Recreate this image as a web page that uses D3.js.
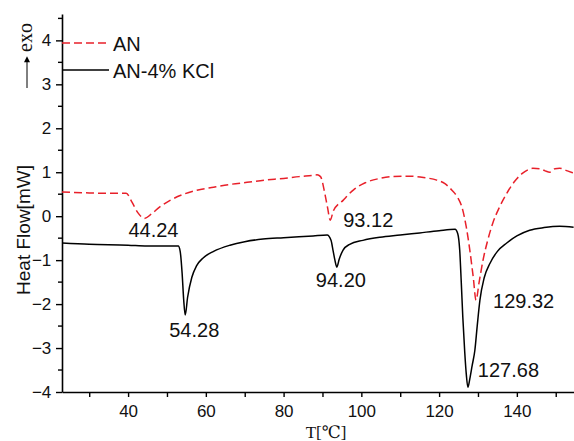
<!DOCTYPE html>
<html>
<head>
<meta charset="utf-8">
<script src="https://d3js.org/d3.v7.min.js"></script>
<style>
  body { margin: 0; background: #fff; }
  svg text { font-family: "Liberation Sans", Arial, sans-serif; fill: #111; }
</style>
</head>
<body>
<div id="chart"></div>
<script>
// AN curve: [temperature, heat flow]
var anTemp = [23, 30, 35, 39.5, 41, 42.5, 44.2, 46, 48, 50.8, 54, 57.7, 62, 66, 70.6, 75, 80, 84, 87.6, 88.6, 89.5, 90.6, 91.3, 92, 92.8, 95.3, 98, 101, 104.8, 108, 112.5, 116, 119.4, 121.5, 123.3, 124.8, 125.9, 127, 127.9, 128.8, 129.5, 130.3, 131.3, 132.5, 133.8, 135.5, 137.4, 139.5, 141.5, 143, 144.1, 146, 147.3, 148.5, 149.8, 151, 153, 154.6];
var anFlow = [0.55, 0.53, 0.52, 0.52, 0.32, 0.08, -0.05, 0.05, 0.2, 0.36, 0.49, 0.59, 0.66, 0.72, 0.77, 0.82, 0.86, 0.9, 0.93, 0.94, 0.9, 0.52, 0.2, -0.09, 0.12, 0.36, 0.6, 0.76, 0.86, 0.9, 0.91, 0.88, 0.82, 0.74, 0.59, 0.42, 0.2, -0.25, -0.77, -1.4, -1.91, -1.5, -1.0, -0.55, -0.16, 0.2, 0.52, 0.8, 0.98, 1.06, 1.09, 1.08, 1.03, 1.0, 1.08, 1.09, 1.03, 0.98];

// AN-4% KCl curve
var kclTemp = [23, 30, 40, 44.9, 52.9, 53.4, 53.9, 54.3, 54.7, 55.3, 56.4, 57.6, 59.3, 62, 66.2, 70, 74.7, 80, 87.6, 91.2, 92.2, 92.7, 93.2, 93.7, 94.3, 95.3, 97, 100.4, 104.8, 110, 115, 120, 124.1, 124.8, 125.3, 125.7, 126.1, 126.6, 127.0, 127.4, 127.9, 128.5, 129.2, 129.8, 130.5, 131.6, 133.1, 135, 137.4, 140, 143.3, 147, 151, 154.6];
var kclFlow = [-0.61, -0.64, -0.66, -0.68, -0.68, -0.8, -1.3, -1.9, -2.25, -1.85, -1.39, -1.13, -0.95, -0.8, -0.66, -0.58, -0.52, -0.49, -0.45, -0.43, -0.55, -0.77, -1.0, -1.16, -0.98, -0.77, -0.64, -0.55, -0.48, -0.43, -0.38, -0.33, -0.3, -0.4, -0.77, -1.5, -2.3, -3.1, -3.6, -3.89, -3.7, -3.4, -3.05, -2.5, -1.91, -1.4, -1.07, -0.8, -0.61, -0.45, -0.32, -0.26, -0.23, -0.25];

var seriesNames = ["AN", "AN-4% KCl"];
var seriesColors = ["#e8202a", "#000000"];

var xTicks = [40, 60, 80, 100, 120, 140];
var yTicks = [-4, -3, -2, -1, 0, 1, 2, 3, 4];

// peak annotations
var peakLabels = ["44.24", "93.12", "129.32", "54.28", "94.20", "127.68"];
var peakTemp = [44.2, 92, 129.5, 54.7, 93.7, 127.4];
var peakFlow = [-0.05, -0.09, -1.91, -2.25, -1.16, -3.89];

var W = 574, H = 441;
var margin = {top: 14, right: 0, bottom: 49, left: 62};

var svg = d3.select("#chart").append("svg")
    .attr("width", W)
    .attr("height", H);

var x = d3.scaleLinear().domain([23, 154.7]).range([margin.left, W - margin.right]);
var y = d3.scaleLinear().domain([-4, 4.6]).range([H - margin.bottom, margin.top]);

// x axis
var xAxis = svg.append("g")
    .attr("transform", "translate(0," + (H - margin.bottom) + ")");
xAxis.call(d3.axisBottom(x).tickValues(d3.range(30, 155, 10)).tickSize(5).tickFormat(function(d) {
    return xTicks.indexOf(d) >= 0 ? d : "";
}).tickSizeOuter(0));
xAxis.selectAll("text").style("font-size", "17px").attr("dy", "1.0em");

// y axis
var yAxis = svg.append("g")
    .attr("transform", "translate(" + margin.left + ",0)");
yAxis.call(d3.axisLeft(y).tickValues(yTicks).tickSize(6).tickSizeOuter(0));
yAxis.selectAll("text").style("font-size", "17px").attr("dx", "-0.1em");
// minor ticks
svg.append("g").selectAll("line")
    .data(d3.range(-3.5, 4.6, 1))
    .join("line")
    .attr("x1", margin.left - 4).attr("x2", margin.left)
    .attr("y1", function(d) { return y(d); })
    .attr("y2", function(d) { return y(d); })
    .attr("stroke", "#000").attr("stroke-width", 1.4);

svg.selectAll(".domain").attr("stroke-width", 1.6);
svg.selectAll(".tick line").attr("stroke-width", 1.4);

// axis titles
svg.append("text")
    .attr("transform", "translate(30,230) rotate(-90)")
    .style("text-anchor", "middle")
    .style("font-size", "19px")
    .text("Heat Flow[mW]");

svg.append("text")
    .attr("x", 326).attr("y", 438)
    .style("text-anchor", "middle")
    .style("font-family", "'Liberation Serif', 'DejaVu Serif', serif")
    .style("font-size", "17px")
    .text("T[\u2103]");

// exo arrow
svg.append("defs").append("marker")
    .attr("id", "arr").attr("viewBox", "0 0 10 10")
    .attr("refX", 2).attr("refY", 5)
    .attr("markerWidth", 10).attr("markerHeight", 6)
    .attr("markerUnits", "userSpaceOnUse")
    .attr("orient", "auto")
    .append("path").attr("d", "M0,0 L10,5 L0,10 Z").attr("fill", "#000");
svg.append("line")
    .attr("x1", 27).attr("x2", 27)
    .attr("y1", 88).attr("y2", 61)
    .attr("stroke", "#000").attr("stroke-width", 1)
    .attr("marker-end", "url(#arr)");
svg.append("text")
    .attr("transform", "translate(32,37.5) rotate(-90)")
    .style("text-anchor", "middle")
    .style("font-family", "'Liberation Serif', 'DejaVu Serif', serif")
    .style("font-size", "20px")
    .text("exo");

// curves
var line = d3.line().curve(d3.curveMonotoneX);
var anPts = anTemp.map(function(t, i) { return [x(t), y(anFlow[i])]; });
var kclPts = kclTemp.map(function(t, i) { return [x(t), y(kclFlow[i])]; });

svg.append("path")
    .attr("d", line(kclPts))
    .attr("fill", "none")
    .attr("stroke", seriesColors[1])
    .attr("stroke-width", 1.5);

svg.append("path")
    .attr("d", line(anPts))
    .attr("fill", "none")
    .attr("stroke", seriesColors[0])
    .attr("stroke-width", 1.5)
    .attr("stroke-dasharray", "8,4");

// legend
var legendY = [43, 70];
seriesNames.forEach(function(name, i) {
    svg.append("line")
        .attr("x1", margin.left).attr("x2", 109)
        .attr("y1", legendY[i]).attr("y2", legendY[i])
        .attr("stroke", seriesColors[i])
        .attr("stroke-width", 1.5)
        .attr("stroke-dasharray", i === 0 ? "8,4" : null);
    svg.append("text")
        .attr("x", 113).attr("y", legendY[i] + 8)
        .style("font-size", "20px")
        .text(name);
});

// peak labels, offset from each peak point
var labelOffset = [[-16, 19], [13, 7], [17, 8], [-16, 22], [-21, 20], [10, -10]];
peakLabels.forEach(function(t, i) {
    svg.append("text")
        .attr("x", x(peakTemp[i]) + labelOffset[i][0])
        .attr("y", y(peakFlow[i]) + labelOffset[i][1])
        .style("font-size", "20px")
        .text(t);
});
</script>
</body>
</html>
